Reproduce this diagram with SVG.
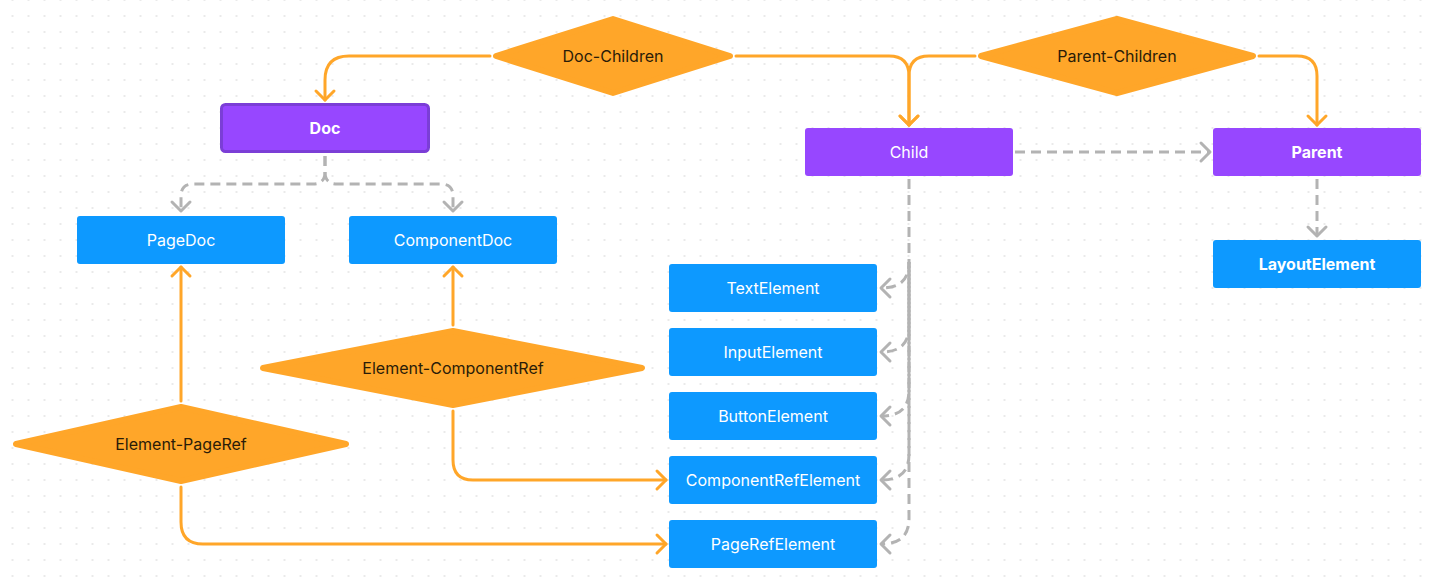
<svg xmlns="http://www.w3.org/2000/svg" width="1435" height="585" viewBox="0 0 1435 585">
  <defs>
    <pattern id="grid" x="4.5" y="8" width="16" height="16" patternUnits="userSpaceOnUse">
      <rect x="7.2" y="7.2" width="1.6" height="1.6" fill="#dedede"/>
    </pattern>
    <marker id="arrO" markerUnits="userSpaceOnUse" markerWidth="24" markerHeight="24" viewBox="-12 -12 24 24" refX="0" refY="0" orient="auto">
      <path d="M-9,-9 L0,0 L-9,9" fill="none" stroke="#ffa629" stroke-width="3" stroke-linecap="round" stroke-linejoin="round"/>
    </marker>
    <marker id="arrG" markerUnits="userSpaceOnUse" markerWidth="24" markerHeight="24" viewBox="-12 -12 24 24" refX="0" refY="0" orient="auto">
      <path d="M-9,-9 L0,0 L-9,9" fill="none" stroke="#b3b3b3" stroke-width="3" stroke-linecap="round" stroke-linejoin="round" stroke-dasharray="none"/>
    </marker>
  </defs>
  <style>
    .blue { fill: #0d99ff; }
    .purple { fill: #9747ff; }
    .lbl { font-family: Inter, "Liberation Sans", sans-serif; font-size: 16px; fill: #ffffff; text-anchor: middle; dominant-baseline: central; }
    .bold { font-weight: 700; }
    .dia { fill: #ffa629; stroke: #ffa629; stroke-width: 6; stroke-linejoin: round; }
    .dlbl { font-family: Inter, "Liberation Sans", sans-serif; font-size: 16px; fill: #2a1c08; text-anchor: middle; dominant-baseline: central; }
    .co { fill: none; stroke: #ffa629; stroke-width: 3; stroke-linecap: round; marker-end: url(#arrO); }
    .cg { fill: none; stroke: #b3b3b3; stroke-width: 3; stroke-dasharray: 10 6; marker-end: url(#arrG); }
  </style>
  <rect width="1435" height="585" fill="#ffffff"/>
  <rect width="1435" height="585" fill="url(#grid)"/>

  <g id="connectors">
    <path class="co" d="M490,56 H349 Q325,56 325,80 V100"/>
    <path class="co" d="M736,56 H889 Q909,56 909,76 V125"/>
    <path class="co" d="M975,56 H929 Q909,56 909,76 V125"/>
    <path class="co" d="M1259,56 H1297 Q1317,56 1317,76 V125"/>
    <path class="co" d="M453,325 V267"/>
    <path class="co" d="M453,411 V460 Q453,480 473,480 H666"/>
    <path class="co" d="M181,401 V267"/>
    <path class="co" d="M181,487 V522 Q181,544 203,544 H666"/>

    <path class="cg" d="M325,156 V172 Q325,184 313,184 H193 Q181,184 181,196 V211"/>
    <path class="cg" d="M325,156 V172 Q325,184 337,184 H441 Q453,184 453,196 V211"/>
    <path class="cg" d="M1015,152 H1210"/>
    <path class="cg" d="M1317,179 V236"/>
    <path class="cg" d="M909,179 V262 C909,280 900,288 881,288"/>
    <path class="cg" stroke-dashoffset="4" d="M909,262 V326 C909,344 900,352 881,352"/>
    <path class="cg" stroke-dashoffset="12" d="M909,262 V390 C909,408 900,416 881,416"/>
    <path class="cg" stroke-dashoffset="0" d="M909,262 V454 C909,472 900,480 881,480"/>
    <path class="cg" stroke-dashoffset="8" d="M909,262 V518 C909,536 900,544 881,544"/>
  </g>

  <g id="doc-children">
    <polygon class="dia" points="496,56 613,19 730,56 613,93"/>
    <text class="dlbl" x="613" y="56">Doc-Children</text>
  </g>
  <g id="parent-children">
    <polygon class="dia" points="981,56 1117,19 1253,56 1117,93"/>
    <text class="dlbl" x="1117" y="56">Parent-Children</text>
  </g>
  <g id="element-componentref">
    <polygon class="dia" points="263,368 453,331 642,368 453,405"/>
    <text class="dlbl" x="453" y="368">Element-ComponentRef</text>
  </g>
  <g id="element-pageref">
    <polygon class="dia" points="16,444 181,407 346,444 181,481"/>
    <text class="dlbl" x="181" y="444">Element-PageRef</text>
  </g>

  <g id="doc">
    <rect x="221.5" y="104.5" width="207" height="47" rx="4" class="purple" stroke="#7b3ed6" stroke-width="3"/>
    <text class="lbl bold" x="325" y="128">Doc</text>
  </g>
  <g id="pagedoc">
    <rect x="77" y="216" width="208" height="48" rx="3" class="blue"/>
    <text class="lbl" x="181" y="240">PageDoc</text>
  </g>
  <g id="componentdoc">
    <rect x="349" y="216" width="208" height="48" rx="3" class="blue"/>
    <text class="lbl" x="453" y="240">ComponentDoc</text>
  </g>
  <g id="child">
    <rect x="805" y="128" width="208" height="48" rx="3" class="purple"/>
    <text class="lbl" x="909" y="152">Child</text>
  </g>
  <g id="parent">
    <rect x="1213" y="128" width="208" height="48" rx="3" class="purple"/>
    <text class="lbl bold" x="1317" y="152">Parent</text>
  </g>
  <g id="layoutelement">
    <rect x="1213" y="240" width="208" height="48" rx="3" class="blue"/>
    <text class="lbl bold" x="1317" y="264">LayoutElement</text>
  </g>
  <g id="textelement">
    <rect x="669" y="264" width="208" height="48" rx="3" class="blue"/>
    <text class="lbl" x="773" y="288">TextElement</text>
  </g>
  <g id="inputelement">
    <rect x="669" y="328" width="208" height="48" rx="3" class="blue"/>
    <text class="lbl" x="773" y="352">InputElement</text>
  </g>
  <g id="buttonelement">
    <rect x="669" y="392" width="208" height="48" rx="3" class="blue"/>
    <text class="lbl" x="773" y="416">ButtonElement</text>
  </g>
  <g id="componentrefelement">
    <rect x="669" y="456" width="208" height="48" rx="3" class="blue"/>
    <text class="lbl" x="773" y="480">ComponentRefElement</text>
  </g>
  <g id="pagerefelement">
    <rect x="669" y="520" width="208" height="48" rx="3" class="blue"/>
    <text class="lbl" x="773" y="544">PageRefElement</text>
  </g>
</svg>
